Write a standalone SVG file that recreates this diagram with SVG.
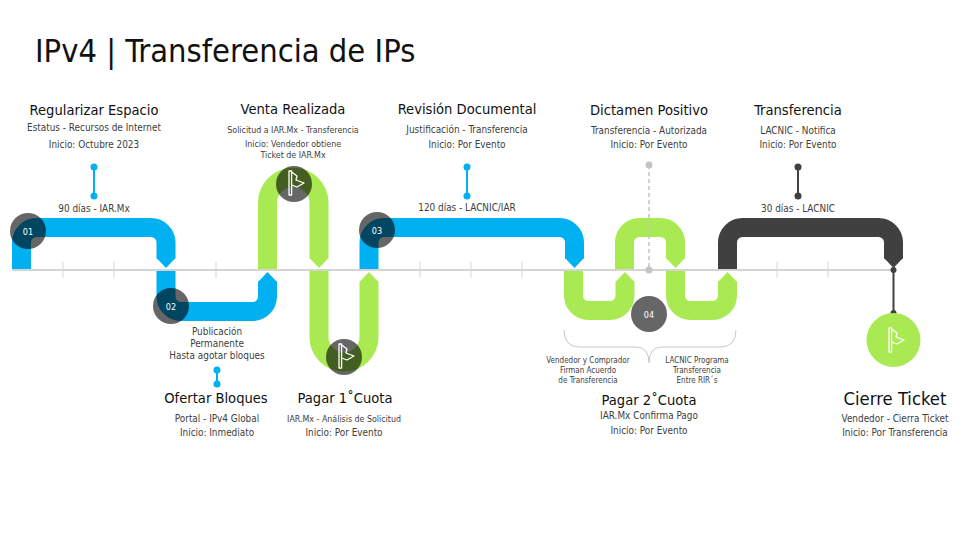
<svg xmlns="http://www.w3.org/2000/svg" width="960" height="540" viewBox="0 0 960 540">
<style>
text{font-family:"DejaVu Sans Condensed","DejaVu Sans",sans-serif;font-stretch:condensed;text-anchor:middle}
.t{font-size:32.4px;fill:#111;text-anchor:start}
.h{font-size:14.6px;fill:#111}
.h2{font-size:18.3px;fill:#111}
.s{font-size:9.9px;fill:#404040}
.xs{font-size:8.8px;fill:#404040}
.b{font-size:8px;fill:#404040}
.n{font-size:9px;fill:#fff}
.pipe{fill:none;stroke-width:19;stroke-linecap:butt}
.blue{stroke:#00b0f0}.blueF{fill:#00b0f0}
.green{stroke:#a9ea52}.greenF{fill:#a9ea52}
.dark{stroke:#404040}.darkF{fill:#404040}
.tick{stroke:#e4e4e4;stroke-width:1.5}
.circ{fill:#000;fill-opacity:0.6}
.flag{fill:none;stroke:#fff;stroke-width:1.3;stroke-linejoin:round}
</style>
<defs>
<g id="flagIcon">
<rect x="-5" y="-12" width="2.6" height="24" class="flag"/>
<path d="M-2.4,-11 L3,-7 L2,-3 L10,0 L3,4 L-2.4,2" class="flag"/>
</g>
</defs>
<rect width="960" height="540" fill="#fff"/>
<text class="t" x="35" y="62">IPv4 | Transferencia de IPs</text>

<g id="ticks">
<line class="tick" x1="63" y1="262" x2="63" y2="278"/>
<line class="tick" x1="114" y1="262" x2="114" y2="278"/>
<line class="tick" x1="216" y1="262" x2="216" y2="278"/>
<line class="tick" x1="420" y1="262" x2="420" y2="278"/>
<line class="tick" x1="471" y1="262" x2="471" y2="278"/>
<line class="tick" x1="522" y1="262" x2="522" y2="278"/>
<line class="tick" x1="777" y1="262" x2="777" y2="278"/>
<line class="tick" x1="828" y1="262" x2="828" y2="278"/>
</g>

<g id="connectors">
<path class="pipe blue" d="M21.5,270 V242.5 A15,15 0 0 1 36.5,227.5 H151 A15,15 0 0 1 166,242.5 V258.5"/>
<polygon class="blueF" points="156.5,258 175.5,258 166,268"/>
<path class="pipe blue" d="M166,270 V296.5 A15,15 0 0 0 181,311.5 H252.5 A15,15 0 0 0 267.5,296.5 V281.5"/>
<polygon class="blueF" points="258,282 277,282 267.5,272"/>
<path class="pipe green" d="M267.5,270 V203 A25.75,25.75 0 0 1 319,203 V258.5"/>
<polygon class="greenF" points="309.5,258 328.5,258 319,268"/>
<path class="pipe green" d="M319,270 V337 A25,25 0 0 0 369,337 V281.5"/>
<polygon class="greenF" points="359.5,282 378.5,282 369,272"/>
<path class="pipe blue" d="M369,270 V242.5 A15,15 0 0 1 384,227.5 H559.5 A15,15 0 0 1 574.5,242.5 V258.5"/>
<polygon class="blueF" points="565,258 584,258 574.5,268"/>
<path class="pipe green" d="M573.5,270 V295.5 A15,15 0 0 0 588.5,310.5 H610 A15,15 0 0 0 625,295.5 V281.5"/>
<polygon class="greenF" points="615.5,282 634.5,282 625,272"/>
<path class="pipe green" d="M624.5,270 V242.5 A15,15 0 0 1 639.5,227.5 H660.5 A15,15 0 0 1 675.5,242.5 V258.5"/>
<polygon class="greenF" points="666,258 685,258 675.5,268"/>
<path class="pipe green" d="M675.5,270 V295.5 A15,15 0 0 0 690.5,310.5 H712.5 A15,15 0 0 0 727.5,295.5 V281.5"/>
<polygon class="greenF" points="718,282 737,282 727.5,272"/>
<path class="pipe dark" d="M727.5,270 V242.5 A15,15 0 0 1 742.5,227.5 H878.5 A15,15 0 0 1 893.5,242.5 V258.5"/>
<polygon class="darkF" points="884,258 903,258 893.5,268"/>
<line x1="12" y1="270" x2="893" y2="270" stroke="#d4d4d4" stroke-width="2"/>
<line x1="94" y1="167" x2="94" y2="196" stroke="#00b0f0" stroke-width="2"/>
<circle cx="94" cy="167" r="3.5" fill="#00b0f0"/><circle cx="94" cy="196" r="3.5" fill="#00b0f0"/>
<line x1="467" y1="167" x2="467" y2="196" stroke="#00b0f0" stroke-width="2"/>
<circle cx="467" cy="167" r="3.5" fill="#00b0f0"/><circle cx="467" cy="196" r="3.5" fill="#00b0f0"/>
<line x1="217" y1="370" x2="217" y2="384" stroke="#00b0f0" stroke-width="2"/>
<circle cx="217" cy="370" r="3.5" fill="#00b0f0"/><circle cx="217" cy="384" r="3.5" fill="#00b0f0"/>
<line x1="798" y1="167" x2="798" y2="196" stroke="#404040" stroke-width="2"/>
<circle cx="798" cy="167" r="3.5" fill="#404040"/><circle cx="798" cy="196" r="3.5" fill="#404040"/>
<line x1="649" y1="165" x2="649" y2="270" stroke="#c4c4c4" stroke-width="1.5" stroke-dasharray="4,3"/>
<circle cx="649" cy="165" r="3.5" fill="#c4c4c4"/><circle cx="649" cy="270" r="3.5" fill="#c4c4c4"/>
<line x1="893.5" y1="270" x2="893.5" y2="313" stroke="#404040" stroke-width="2"/>
<circle cx="893.5" cy="270" r="3" fill="#404040"/><circle cx="893.5" cy="313" r="3" fill="#404040"/>
<path d="M564,330 Q564,347 580,347 H636 Q649,347 649,363 Q649,347 662,347 H720 Q736,347 736,330" fill="none" stroke="#c8c8c8" stroke-width="1"/>
</g>

<g id="n01"><circle class="circ" cx="28" cy="231" r="18"/><text class="n" x="28" y="234.5">01</text></g>
<g id="n02"><circle class="circ" cx="171" cy="306" r="18"/><text class="n" x="171" y="309.5">02</text></g>
<g id="n03"><circle class="circ" cx="377" cy="230" r="18"/><text class="n" x="377" y="233.5">03</text></g>
<g id="n04"><circle class="circ" cx="649" cy="314" r="18"/><text class="n" x="649" y="317.5">04</text></g>
<g id="flag1"><circle class="circ" cx="294" cy="184" r="18"/><use href="#flagIcon" x="294" y="183"/></g>
<g id="flag2"><circle class="circ" cx="344" cy="357" r="18"/><use href="#flagIcon" x="344" y="356"/></g>
<g id="flag3"><circle cx="893.5" cy="340" r="27" fill="#a9ea52"/><use href="#flagIcon" x="894" y="340"/></g>

<g id="regularizar">
<text class="h" x="94" y="115">Regularizar Espacio</text>
<text class="s" x="94" y="131">Estatus - Recursos de Internet</text>
<text class="s" x="94" y="148">Inicio: Octubre 2023</text>
<text class="s" x="94" y="212">90 días - IAR.Mx</text>
</g>
<g id="venta">
<text class="h" x="293" y="114">Venta Realizada</text>
<text class="xs" x="293" y="133">Solicitud a IAR.Mx - Transferencia</text>
<text class="xs" x="293" y="147">Inicio: Vendedor obtiene</text>
<text class="xs" x="293" y="158">Ticket de IAR.Mx</text>
</g>
<g id="revision">
<text class="h" x="467" y="114">Revisión Documental</text>
<text class="s" x="467" y="133">Justificación - Transferencia</text>
<text class="s" x="467" y="148">Inicio: Por Evento</text>
<text class="s" x="467" y="211">120 días - LACNIC/IAR</text>
</g>
<g id="dictamen">
<text class="h" x="649" y="115">Dictamen Positivo</text>
<text class="s" x="649" y="134">Transferencia - Autorizada</text>
<text class="s" x="649" y="148">Inicio: Por Evento</text>
</g>
<g id="transferencia">
<text class="h" x="798" y="115">Transferencia</text>
<text class="s" x="798" y="134">LACNIC - Notifica</text>
<text class="s" x="798" y="148">Inicio: Por Evento</text>
<text class="s" x="798" y="212">30 días - LACNIC</text>
</g>
<g id="ofertar">
<text class="s" x="217" y="335">Publicación</text>
<text class="s" x="217" y="347">Permanente</text>
<text class="s" x="217" y="359">Hasta agotar bloques</text>
<text class="h" x="216" y="403">Ofertar Bloques</text>
<text class="s" x="217" y="422">Portal - IPv4 Global</text>
<text class="s" x="217" y="436">Inicio: Inmediato</text>
</g>
<g id="pagar1">
<text class="h" x="345" y="403">Pagar 1˚Cuota</text>
<text class="xs" x="344" y="422">IAR.Mx - Análisis de Solicitud</text>
<text class="s" x="344" y="436">Inicio: Por Evento</text>
</g>
<g id="pagar2">
<text class="b" x="588" y="363">Vendedor y Comprador</text>
<text class="b" x="588" y="373">Firman Acuerdo</text>
<text class="b" x="588" y="383">de Transferencia</text>
<text class="b" x="697" y="363">LACNIC Programa</text>
<text class="b" x="697" y="373">Transferencia</text>
<text class="b" x="697" y="383">Entre RIR´s</text>
<text class="h" x="649" y="405">Pagar 2˚Cuota</text>
<text class="s" x="649" y="419">IAR.Mx Confirma Pago</text>
<text class="s" x="649" y="434">Inicio: Por Evento</text>
</g>
<g id="cierre">
<text class="h2" x="895" y="405">Cierre Ticket</text>
<text class="s" x="895" y="422">Vendedor - Cierra Ticket</text>
<text class="s" x="895" y="436">Inicio: Por Transferencia</text>
</g>
</svg>
